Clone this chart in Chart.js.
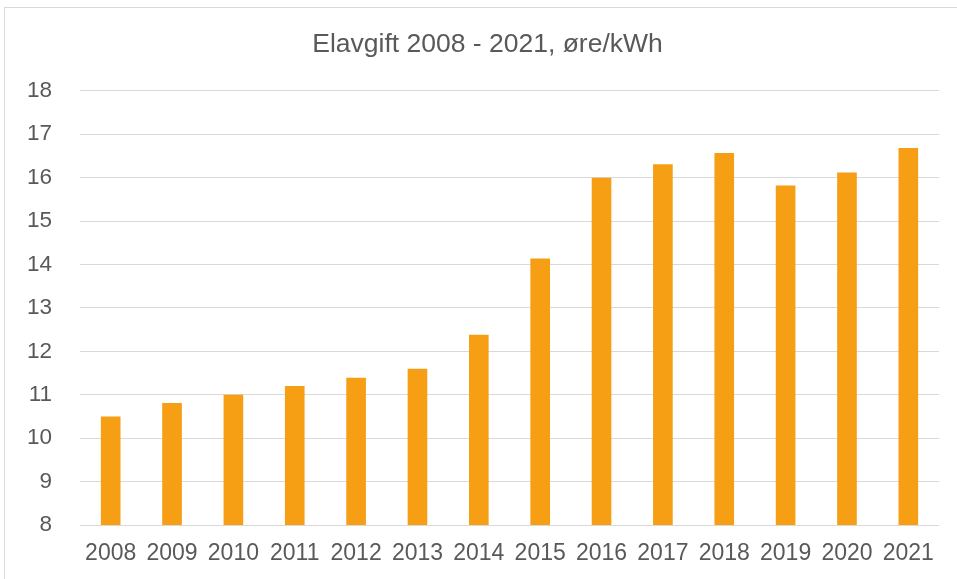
<!DOCTYPE html>
<html>
<head>
<meta charset="utf-8">
<script src="https://cdn.jsdelivr.net/npm/chart.js@4.4.1/dist/chart.umd.min.js"></script>
<style>
  html, body { margin: 0; padding: 0; background: #fff; }
  #wrap { position: relative; width: 957px; height: 579px; }
  #frame { position: absolute; left: 4px; top: 7px; width: 960px; height: 580px; border: 1px solid #d9d9d9; box-sizing: border-box; }
  #chart { position: absolute; left: 0; top: 0; }
</style>
</head>
<body>
<div id="wrap">
  <div id="frame"></div>
  <canvas id="chart" width="957" height="579"></canvas>
</div>
<script>
const years = ["2008", "2009", "2010", "2011", "2012", "2013", "2014", "2015", "2016", "2017", "2018", "2019", "2020", "2021"];
const elavgift = [10.5, 10.81, 11.0, 11.2, 11.39, 11.6, 12.38, 14.14, 16.0, 16.31, 16.57, 15.82, 16.12, 16.68];
const yMin = 8;
const yMax = 18;

const textColor = "#595959";
const fontFamily = "'Liberation Sans', Arial, sans-serif";

const ctx = document.getElementById("chart").getContext("2d");
new Chart(ctx, {
    type: "bar",
    data: {
        labels: years,
        datasets: [{
            label: "Elavgift",
            data: elavgift,
            yAxisID: "y",
            backgroundColor: "#F69E14",
            barPercentage: 0.32,
            categoryPercentage: 1.0
        }]
    },
    options: {
        responsive: false,
        animation: false,
        // negative right padding + empty right axis: title centred on the frame, not the canvas
        layout: { padding: { left: 0, right: -18, top: 0, bottom: 0 } },
        plugins: {
            legend: { display: false },
            tooltip: { enabled: false },
            title: {
                display: true,
                text: "Elavgift 2008 - 2021, øre/kWh",
                color: textColor,
                font: { family: fontFamily, size: 26.5, weight: "normal" },
                padding: { top: 29, bottom: 30 }
            }
        },
        scales: {
            x: {
                grid: { display: false },
                border: { display: false },
                ticks: {
                    color: textColor,
                    font: { family: fontFamily, size: 23 },
                    padding: 7,
                    maxRotation: 0,
                    autoSkip: false
                },
                afterFit: scale => { scale.height = 54; }
            },
            y: {
                position: "left",
                min: yMin,
                max: yMax,
                grid: { color: "#d9d9d9", lineWidth: 1, drawTicks: false },
                border: { display: false },
                ticks: {
                    stepSize: 1,
                    color: textColor,
                    font: { family: fontFamily, size: 22.5 },
                    padding: 28
                },
                afterFit: scale => { scale.width = 80; }
            },
            yRight: {
                position: "right",
                min: yMin,
                max: yMax,
                grid: { display: false },
                border: { display: false },
                ticks: { display: false },
                afterFit: scale => { scale.width = 36; }
            }
        }
    }
});
</script>
</body>
</html>
